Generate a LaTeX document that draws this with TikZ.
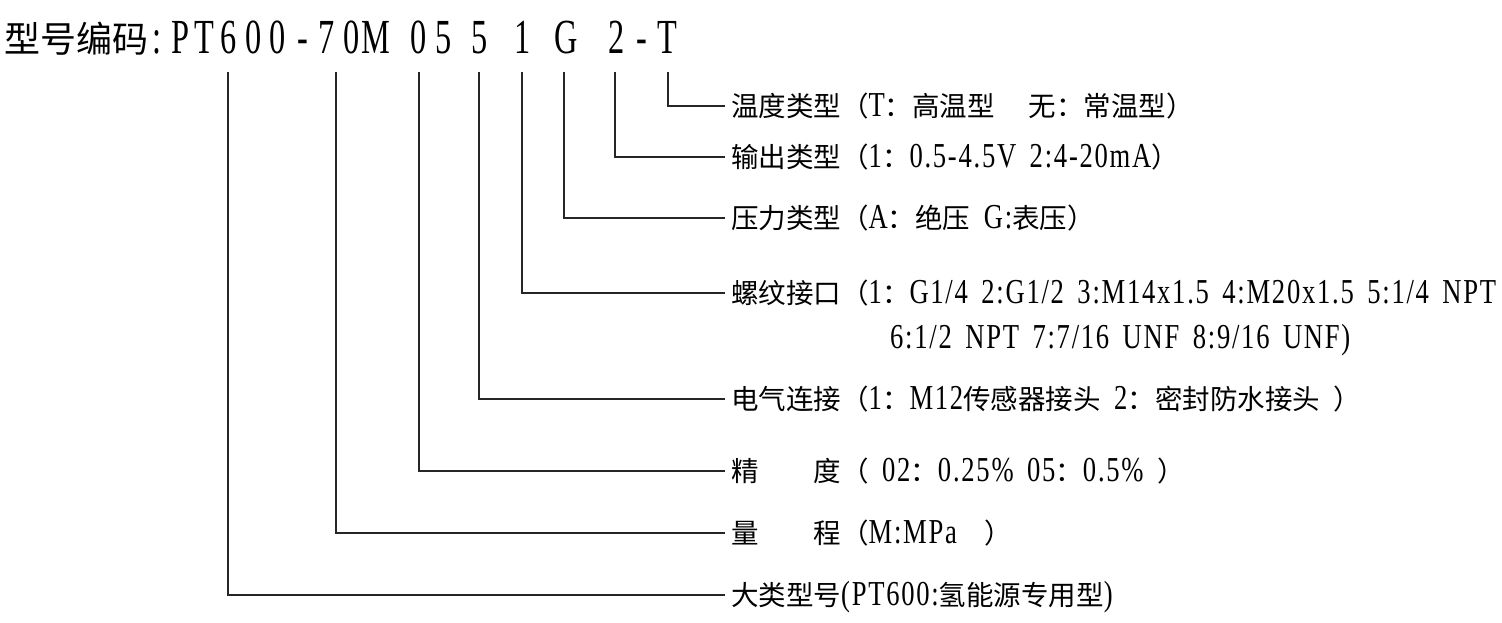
\documentclass[tikz,border=0pt]{standalone}
\usepackage{fontspec}
\setmainfont{Liberation Serif}[FakeStretch=0.76,WordSpace=1.6,LetterSpace=5]
\newfontfamily\cjkfont{Noto Sans CJK SC}
\newfontfamily\hlatfont{Liberation Serif}[FakeStretch=0.66]
\newcommand{\C}[1]{{\cjkfont\fontsize{27.5}{30}\selectfont #1}}
\begin{document}
\begin{tikzpicture}[x=1pt,y=-1pt,
  lab/.style={anchor=west,inner sep=0pt,text height=24pt,text depth=3pt,font=\fontsize{35}{38}\selectfont},
  hcjk/.style={anchor=west,inner sep=0pt,text height=32pt,text depth=4pt,font=\cjkfont\fontsize{36}{40}\selectfont},
  hlat/.style={inner sep=0pt,text height=33pt,text depth=3pt,font=\hlatfont\fontsize{49}{52}\selectfont},
  conn/.style={draw=black!85,line width=1.3pt}]
\useasboundingbox (0,0) rectangle (1502,622);
% header
\node[hcjk] (h0) at (4,38) {型号编码};
\node[hlat] (hc) at (157,38) {:};
\foreach \ch/\xx [count=\i] in {P/180,T/204.5,6/229,0/253.5,0/278,-/302.5,7/327,0/351.5,M/376,0/419,5/444,5/480,1/523,G/566,2/617,-/642,T/667}
  \node[hlat] (h\i) at (\xx,38) {\ch};
% labels
\node[lab] (L1) at (731,106) {\C{温度类型（}T\C{：高温型　 无：常温型）}};
\node[lab] (L2) at (731,157) {\C{输出类型（}1\C{：}0.5-4.5V 2:4-20mA\C{）}};
\node[lab] (L3) at (731,218) {\C{压力类型（}A\C{：绝压} G:\C{表压）}};
\node[lab] (L4) at (731,293) {\C{螺纹接口（}1\C{：}G1/4 2:G1/2 3:M14x1.5 4:M20x1.5 5:1/4 NPT};
\node[lab] (L4b) at (890,338) {6:1/2 NPT 7:7/16 UNF 8:9/16 UNF)};
\node[lab] (L5) at (731,399) {\C{电气连接（}1\C{：}M12\C{传感器接头} 2\C{：密封防水接头} \C{）}};
\node[lab] (L6) at (731,471) {\C{精　　度（} 02\C{：}0.25\% 05\C{：}0.5\% \C{）}};
\node[lab] (L7) at (731,533) {\C{量　　程（}M:MPa\C{　）}};
\node[lab] (L8) at (731,595) {\C{大类型号}(PT600:\C{氢能源专用型})};
% connectors
\coordinate (t1) at (668,72);
\coordinate (t2) at (615,72);
\coordinate (t3) at (564,72);
\coordinate (t4) at (522,72);
\coordinate (t5) at (479,72);
\coordinate (t6) at (419,72);
\coordinate (t7) at (336,72);
\coordinate (t8) at (228,72);
\foreach \k in {1,...,8}
  \draw[conn] (t\k) |- ([xshift=-6pt]L\k.west);
\end{tikzpicture}
\end{document}
